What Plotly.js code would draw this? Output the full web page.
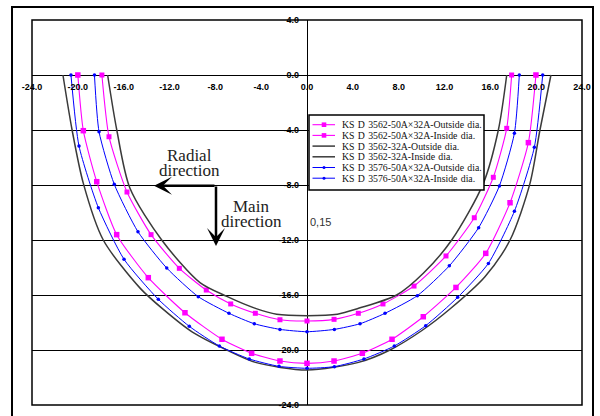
<!DOCTYPE html>
<html>
<head>
<meta charset="utf-8">
<script src="https://cdn.plot.ly/plotly-3.0.1.min.js"></script>
<style>html,body{margin:0;padding:0;background:#fff;}#chart{width:600px;height:416px;}</style>
</head>
<body>
<div id="chart"></div>
<script>
// ---- data ----
const SP = "\u00a0\u200a";
const seriesNames = [
  "KS" + SP + "D" + SP + "3562-50A\u00d732A-Outside" + SP + "dia.",
  "KS" + SP + "D" + SP + "3562-50A\u00d732A-Inside" + SP + "dia.",
  "KS" + SP + "D" + SP + "3562-32A-Outside" + SP + "dia.",
  "KS" + SP + "D" + SP + "3562-32A-Inside" + SP + "dia.",
  "KS" + SP + "D" + SP + "3576-50A\u00d732A-Outside" + SP + "dia.",
  "KS" + SP + "D" + SP + "3576-50A\u00d732A-Inside" + SP + "dia."
];
const xTicks = [-24,-20,-16,-12,-8,-4,0,4,8,12,16,20,24];
const xTickLabels = ["-24.0","-20.0","-16.0","-12.0","-8.0","-4.0","0.0","4.0","8.0","12.0","16.0","20.0","24.0"];
const yTicks = [4,0,-4,-8,-12,-16,-20,-24];
const yTickLabels = ["4.0","0.0","-4.0","-8.0","-12.0","-16.0","-20.0","-24.0"];

const magOutX = [-20.0,-19.52,-18.35,-16.61,-13.85,-10.65,-7.42,-4.83,-2.36,0,2.36,4.83,7.42,10.15,13.0,15.6,17.72,19.32,19.98];
const magOutY = [0,-4.05,-7.76,-11.61,-14.74,-17.29,-19.22,-20.24,-20.8,-20.97,-20.8,-20.24,-19.22,-17.58,-15.45,-12.97,-9.29,-4.92,0];
const magInX = [-17.9,-17.28,-15.71,-13.61,-11.14,-8.79,-6.66,-4.51,-2.36,0,2.36,4.48,6.63,9.34,12.13,14.6,16.26,17.43,17.86];
const magInY = [0,-4.49,-8.51,-11.61,-14.06,-15.64,-16.65,-17.33,-17.8,-17.89,-17.77,-17.33,-16.65,-15.35,-13.16,-10.38,-7.44,-3.88,0];
const blkOutX = [-21.3,-20.5,-19.52,-17.78,-14.57,-12.54,-10.0,-7.0,-4.5,0,4.5,7.24,10.0,12.5,15.53,17.72,19.46,20.33,21.29];
const blkOutY = [0,-4,-7.88,-12.0,-15.5,-17.05,-18.7,-20.0,-20.9,-21.45,-20.9,-20.0,-18.6,-17.0,-14.67,-12.0,-7.88,-4,0];
const blkInX = [-17.4,-16.6,-15.45,-12.68,-9.34,-7.0,-4.5,-2.65,0,2.65,4.5,7.83,10.15,12.63,15.39,16.7,17.43];
const blkInY = [0,-4,-8.24,-12.0,-15.1,-16.1,-16.97,-17.4,-17.5,-17.4,-16.97,-16.0,-14.42,-12.0,-7.88,-4,0];
const bluOutX = [-20.6,-19.9,-18.21,-15.97,-12.98,-10.27,-7.65,-5.04,-2.44,0,2.39,4.97,7.62,10.36,13.15,15.83,18.1,19.84,20.57];
const bluOutY = [0,-5.16,-9.65,-13.4,-16.31,-18.28,-19.71,-20.65,-21.19,-21.33,-21.21,-20.65,-19.71,-18.23,-16.17,-13.7,-9.91,-5.26,0];
const bluInX = [-18.55,-18.15,-16.82,-14.75,-12.24,-9.49,-6.81,-4.6,-2.36,0,2.39,4.63,6.81,9.63,12.42,14.98,16.79,18.1,18.53];
const bluInY = [0,-4.12,-7.95,-11.4,-14.04,-16.12,-17.33,-18.09,-18.5,-18.67,-18.5,-18.09,-17.33,-16.05,-13.88,-11.1,-8.07,-4.24,0];

// ---- styles ----
const MAG = "#ff00ff", BLU = "#0000ff", BLK = "#3a3a3a";
const styles = [
  {color: MAG, width: 1.1, marker: {symbol: "square", size: 5.5}},
  {color: MAG, width: 1.1, marker: {symbol: "square", size: 5}},
  {color: BLK, width: 1.5, marker: null},
  {color: BLK, width: 1.5, marker: null},
  {color: BLU, width: 1, marker: {symbol: "circle", size: 3.5}},
  {color: BLU, width: 1, marker: {symbol: "circle", size: 3.5}}
];
const xs = [magOutX, magInX, blkOutX, blkInX, bluOutX, bluInX];
const ys = [magOutY, magInY, blkOutY, blkInY, bluOutY, bluInY];

const traces = xs.map((x, i) => {
  const s = styles[i];
  const t = {
    type: "scatter", x: x, y: ys[i], name: seriesNames[i],
    mode: s.marker ? "lines+markers" : "lines",
    line: {color: s.color, width: s.width, shape: "spline", smoothing: s.marker ? 0.6 : 0.8},
    showlegend: false, hoverinfo: "skip"
  };
  if (s.marker) t.marker = {symbol: s.marker.symbol, size: s.marker.size, color: s.color};
  return t;
});

// pixel helpers for decorations
const L = 32, R = 582, T = 20, B = 405;
const px = v => (v - L) / (R - L);
const py = v => (B - v) / (B - T);

const shapes = [
  {type: "rect", xref: "paper", yref: "paper", x0: 0, x1: 1, y0: 0, y1: 1, line: {color: "#000", width: 1.5}, layer: "above"},
  {type: "rect", xref: "paper", yref: "paper", x0: px(12), x1: px(593), y0: py(430), y1: py(7), line: {color: "#000", width: 2}, layer: "above"},
  {type: "rect", xref: "paper", yref: "paper", x0: px(309), x1: px(484), y0: py(190), y1: py(115), line: {color: "#000", width: 1.5}, fillcolor: "#fff", layer: "above"}
];
const annotations = [];
seriesNames.forEach((n, i) => {
  const yy = 124.7 + i * 10.7;
  const s = styles[i];
  shapes.push({type: "line", xref: "paper", yref: "paper", x0: px(312.5), x1: px(335), y0: py(yy), y1: py(yy), line: {color: s.color, width: s.width}, layer: "above"});
  if (s.marker) {
    const h = s.marker.symbol === "square" ? 2.3 : 1.5;
    shapes.push({type: s.marker.symbol === "square" ? "rect" : "circle", xref: "paper", yref: "paper",
      x0: px(324 - h), x1: px(324 + h), y0: py(yy + h), y1: py(yy - h), fillcolor: s.color, line: {width: 0}, layer: "above"});
  }
  annotations.push({xref: "paper", yref: "paper", x: px(340), y: py(yy), xanchor: "left", yanchor: "middle",
    text: n, showarrow: false, font: {family: "Liberation Serif, Times New Roman, serif", size: 9.8, color: "#111"}});
});

const serif = {family: "Liberation Serif, Times New Roman, serif", size: 17, color: "#222"};
const toX = v => (v - 307) / 11.458;
const toY = v => (75 - v) / 13.75;
annotations.push(
  {x: toX(189), y: toY(155), text: "Radial", showarrow: false, font: serif, xanchor: "center", yanchor: "middle"},
  {x: toX(189), y: toY(170.5), text: "direction", showarrow: false, font: serif, xanchor: "center", yanchor: "middle"},
  {x: toX(250.5), y: toY(206.5), text: "Main", showarrow: false, font: serif, xanchor: "center", yanchor: "middle"},
  {x: toX(251), y: toY(221.5), text: "direction", showarrow: false, font: serif, xanchor: "center", yanchor: "middle"},
  {x: toX(154), y: toY(185.7), ax: 62, ay: 0, axref: "pixel", ayref: "pixel", showarrow: true, arrowhead: 3, arrowsize: 1.2, arrowwidth: 2.5, arrowcolor: "#000", text: ""},
  {x: toX(216), y: toY(246), ax: 0, ay: -61, axref: "pixel", ayref: "pixel", showarrow: true, arrowhead: 3, arrowsize: 1.2, arrowwidth: 2.5, arrowcolor: "#000", text: ""},
  {x: toX(308), y: toY(222), text: "0,15", showarrow: false, xanchor: "left", yanchor: "middle", font: {family: "Liberation Sans, Arial, sans-serif", size: 11, color: "#333"}}
);

const tickFont = {family: "Liberation Sans, Arial, sans-serif", size: 9, weight: "bold", color: "#000"};
const layout = {
  width: 600, height: 416,
  margin: {l: L, r: 600 - R, t: T, b: 416 - B, pad: 0, autoexpand: false},
  paper_bgcolor: "#fff", plot_bgcolor: "#fff", showlegend: false,
  xaxis: {range: [-24, 24], tickvals: xTicks, ticktext: xTickLabels, showgrid: false,
    zeroline: true, zerolinecolor: "#000", zerolinewidth: 1, showline: false, ticks: "",
    anchor: "free", position: 24 / 28, tickfont: tickFont, ticklabelstandoff: 5, fixedrange: true},
  yaxis: {range: [-24, 4], tickvals: yTicks, ticktext: yTickLabels, showgrid: true, gridcolor: "#000", gridwidth: 1,
    zeroline: true, zerolinecolor: "#000", zerolinewidth: 1, showline: false, ticks: "",
    anchor: "free", position: 0.5, tickfont: tickFont, ticklabelstandoff: 8, fixedrange: true},
  shapes: shapes, annotations: annotations
};
Plotly.newPlot("chart", traces, layout, {staticPlot: true});
</script>
</body>
</html>
